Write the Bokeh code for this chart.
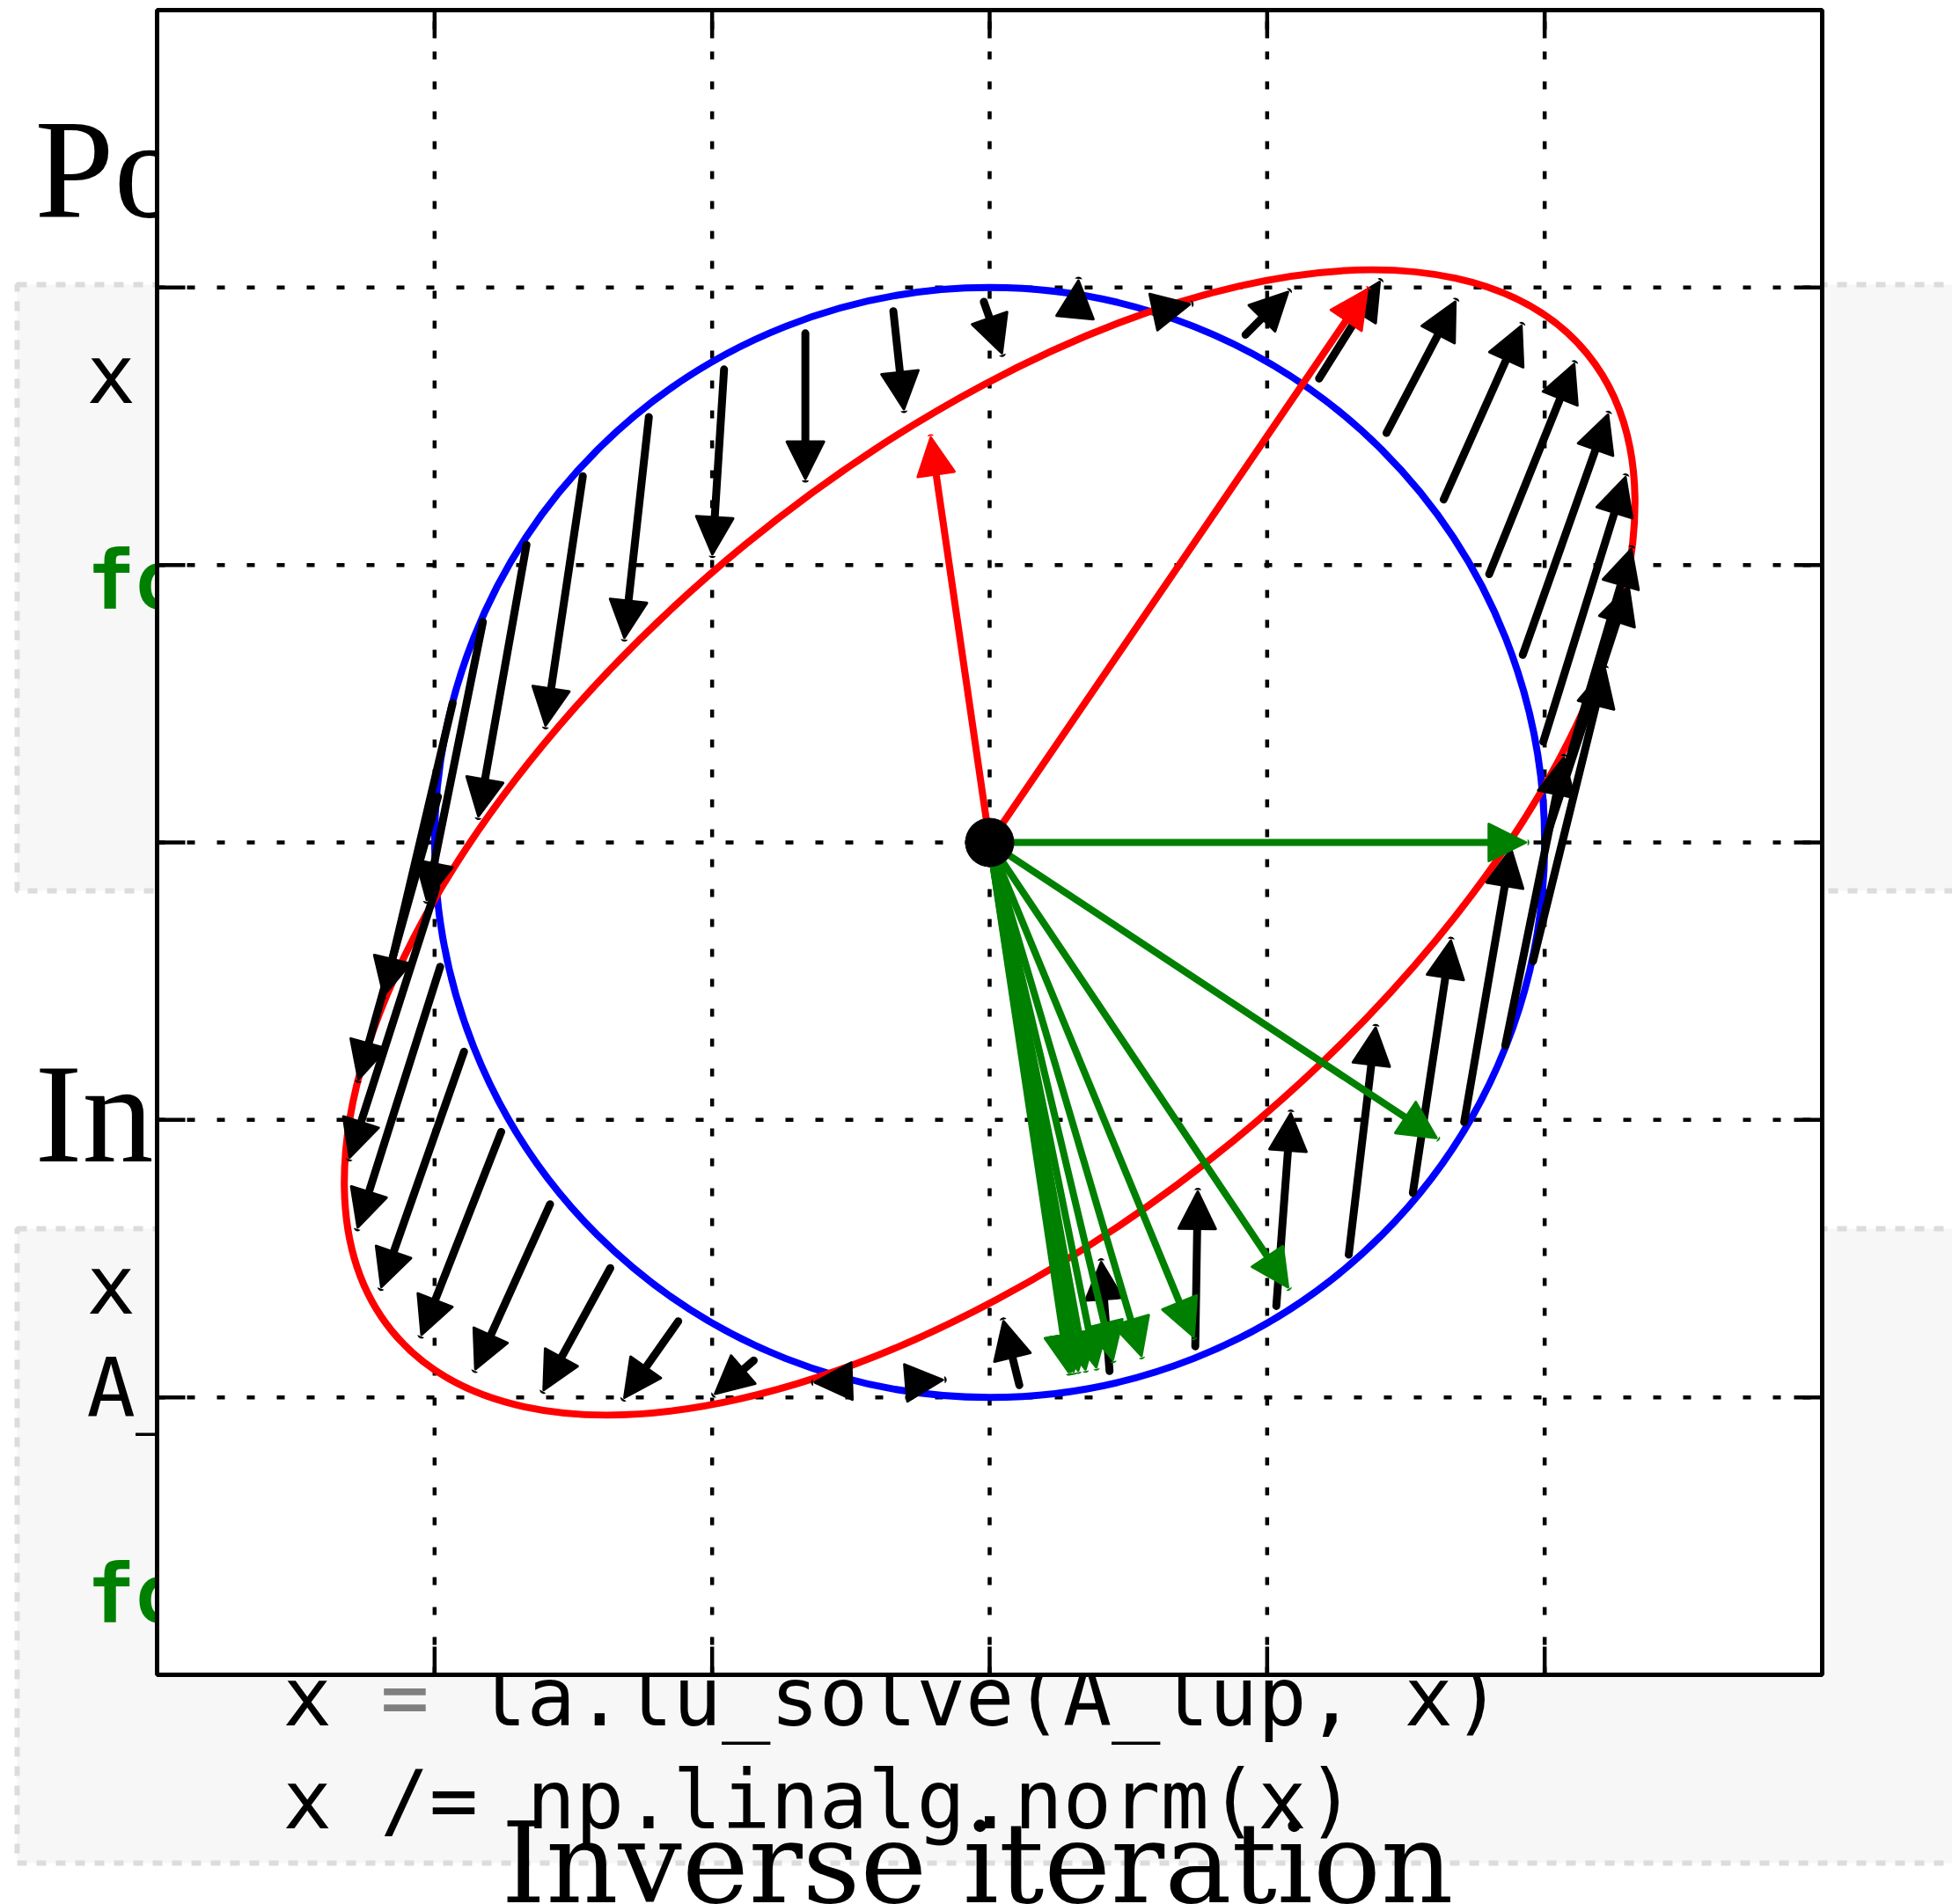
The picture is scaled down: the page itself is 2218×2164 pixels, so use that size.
from bokeh.plotting import figure
from bokeh.models import Range1d, ColumnDataSource, Arrow, NormalHead
from bokeh.core.properties import value
from bokeh.embed import file_html
from bokeh.resources import INLINE

# ---------------------------------------------------------------- data
# tails and tips of the black arrows (point on the circle -> mapped point)
black_x0 = [2.000, 1.995, 1.921, 1.800, 1.636, 1.430, 1.187, 0.922, 0.606, 0.310,
            -0.021, -0.347, -0.664, -0.957, -1.228, -1.466, -1.669, -1.826, -1.935, -1.988,
            -1.994, -1.980, -1.894, -1.760, -1.584, -1.367, -1.122, -0.850, -0.510, -0.278,
            0.107, 0.432, 0.741, 1.033, 1.294, 1.525, 1.710, 1.858, 1.958, 2.000]
black_y0 = [0.000, 0.363, 0.676, 0.967, 1.236, 1.476, 1.672, 1.830, 1.915, 1.918,
            1.949, 1.915, 1.835, 1.705, 1.533, 1.320, 1.073, 0.795, 0.502, 0.165,
            -0.162, -0.448, -0.754, -1.043, -1.304, -1.534, -1.726, -1.867, -1.942, -1.946,
            -1.956, -1.905, -1.816, -1.671, -1.486, -1.263, -1.008, -0.732, -0.428, 0.000]
black_x1 = [2.302, 2.291, 2.228, 2.106, 1.916, 1.678, 1.405, 1.075, 0.721, 0.320,
            0.044, -0.309, -0.664, -0.999, -1.316, -1.600, -1.842, -2.028, -2.183, -2.274,
            -2.306, -2.277, -2.192, -2.047, -1.853, -1.607, -1.316, -0.989, -0.630, -0.169,
            0.050, 0.402, 0.750, 1.085, 1.391, 1.662, 1.879, 2.069, 2.217, 2.312]
black_y1 = [0.923, 1.316, 1.542, 1.724, 1.862, 1.949, 2.020, 1.984, 1.940, 2.025,
            1.764, 1.562, 1.311, 1.039, 0.738, 0.422, 0.095, -0.207, -0.551, -0.853,
            -1.135, -1.387, -1.602, -1.774, -1.898, -1.973, -2.001, -1.987, -1.946, -1.937,
            -1.726, -1.513, -1.259, -0.977, -0.668, -0.354, -0.024, 0.305, 0.625, 1.057]

# eigenvectors scaled by their eigenvalues
eig_x = [1.360, -0.212]
eig_y = [1.992, 1.459]

# inverse-iteration iterates
iter_x = [1.932, 1.610, 1.075, 0.735, 0.547, 0.444, 0.384, 0.345, 0.319, 0.302, 0.292, 0.285]
iter_y = [0.000, -1.065, -1.603, -1.781, -1.850, -1.864, -1.891, -1.899, -1.903, -1.906, -1.908, -1.909]

# unit-circle image: radius of the circle, ellipse axes and tilt
circle_r = 2.0
ell_w, ell_h, ell_angle_deg = 5.564, 2.778, 39.3

grid_vals = [-2, -1, 0, 1, 2]
LIM = 3.0

# ---------------------------------------------------------------- page layout
W, H = 2218, 2164
FRAME_L, FRAME_R, FRAME_T, FRAME_B = 178, 2070, 11, 1903
sx = (FRAME_R - FRAME_L) / (2 * LIM)
sy = (FRAME_B - FRAME_T) / (2 * LIM)

p = figure(width=W, height=H, x_range=Range1d(0, W), y_range=Range1d(H, 0),
           x_axis_type=None, y_axis_type=None, output_backend="svg",
           toolbar_location=None, min_border=0, outline_line_color=None,
           background_fill_color="white", border_fill_color="white")
p.grid.visible = False

p.extra_x_ranges = {"d": Range1d(-LIM - FRAME_L / sx, LIM + (W - FRAME_R) / sx)}
p.extra_y_ranges = {"d": Range1d(-LIM - (H - FRAME_B) / sy, LIM + FRAME_T / sy)}
D = dict(x_range_name="d", y_range_name="d")


def base(y, size):
    # place text so that its alphabetic baseline lands on y
    return [v - 0.335 * size for v in y]


# ---------------------------------------------------------------- slide behind
p.quad(left=[19, 19], right=[2260, 2260], top=[323, 1396], bottom=[1012, 2117],
       fill_color="#f7f7f7", line_color="#dcdcdc", line_width=6, line_dash="11 11")

HEAD = 162
p.text(x=[39, 39], y=base([245, 1319], HEAD), text=["Po", "In"],
       text_font=value("Liberation Serif"), text_font_size=f"{HEAD}px",
       text_baseline="alphabetic", text_align="left", text_color="black")

CODE = 92
mono = dict(text_font=value("DejaVu Sans Mono"), text_font_size=f"{CODE}px",
            text_baseline="alphabetic", text_align="left")
adv = 0.602 * CODE
p.text(x=[98, 98, 98], y=base([457, 1492, 1609], CODE), text=["x", "x", "A_"],
       text_color="black", **mono)
p.text(x=[98, 98], y=base([691, 1843], CODE), text=["fo", "fo"], text_color="#008000",
       text_font_style="bold", **mono)
p.text(x=[321, 321 + 4 * adv, 321], y=base([1960, 1960, 2077], CODE),
       text=["x", "la.lu_solve(A_lup, x)", "x /= np.linalg.norm(x)"],
       text_color="black", **mono)
p.text(x=[321 + 2 * adv], y=base([1960], CODE), text=["="], text_color="#808080", **mono)

# ---------------------------------------------------------------- plot frame
p.quad(left=[-LIM], right=[LIM], bottom=[-LIM], top=[LIM], fill_color="white",
       line_color=None, **D)

span = [-LIM] * len(grid_vals)
span_e = [LIM] * len(grid_vals)
p.segment(x0=grid_vals, y0=span, x1=grid_vals, y1=span_e, line_color="black",
          line_width=4.5, line_dash="9 25", **D)
p.segment(x0=span, y0=grid_vals, x1=span_e, y1=grid_vals, line_color="black",
          line_width=4.5, line_dash="9 25", **D)

tl = 32 / sx
n = len(grid_vals)
p.segment(x0=[-LIM] * n, y0=grid_vals, x1=[-LIM + tl] * n, y1=grid_vals, line_color="black", line_width=4.5, **D)
p.segment(x0=[LIM] * n, y0=grid_vals, x1=[LIM - tl] * n, y1=grid_vals, line_color="black", line_width=4.5, **D)
p.segment(x0=grid_vals, y0=[-LIM] * n, x1=grid_vals, y1=[-LIM + tl] * n, line_color="black", line_width=4.5, **D)
p.segment(x0=grid_vals, y0=[LIM] * n, x1=grid_vals, y1=[LIM - tl] * n, line_color="black", line_width=4.5, **D)

# circle and its image
p.ellipse(x=[0], y=[0], width=[2 * circle_r], height=[2 * circle_r], fill_color=None,
          line_color="#0000ff", line_width=8, **D)
p.ellipse(x=[0], y=[0], width=[ell_w], height=[ell_h], angle=[ell_angle_deg],
          angle_units="deg", fill_color=None, line_color="#ff0000", line_width=8, **D)


def arrows(x0, y0, x1, y1, color, width, head):
    src = ColumnDataSource(dict(x0=x0, y0=y0, x1=x1, y1=y1))
    p.add_layout(Arrow(x_start="x0", y_start="y0", x_end="x1", y_end="y1", source=src,
                       line_color=color, line_width=width, line_cap="round",
                       end=NormalHead(size=head, fill_color=color, line_color=color,
                                      line_width=3, line_join="round"),
                       **D))


arrows(black_x0, black_y0, black_x1, black_y1, "black", 9, 42)
arrows([0] * len(eig_x), [0] * len(eig_y), eig_x, eig_y, "#ff0000", 8, 42)
arrows([0] * len(iter_x), [0] * len(iter_y), iter_x, iter_y, "#008000", 8, 42)

p.scatter(x=[0], y=[0], size=55, color="black", level="overlay", **D)

# frame border
p.quad(left=[-LIM], right=[LIM], bottom=[-LIM], top=[LIM], fill_color=None,
       line_color="black", line_width=5, **D)

# ---------------------------------------------------------------- caption
CAP = 128
p.text(x=[1110], y=base([2160], CAP), text=["Inverse iteration"], text_font=value("DejaVu Serif"),
       text_font_size=f"{CAP}px", text_baseline="alphabetic", text_align="center",
       text_color="black")

open("out.html", "w").write(file_html(p, INLINE))
